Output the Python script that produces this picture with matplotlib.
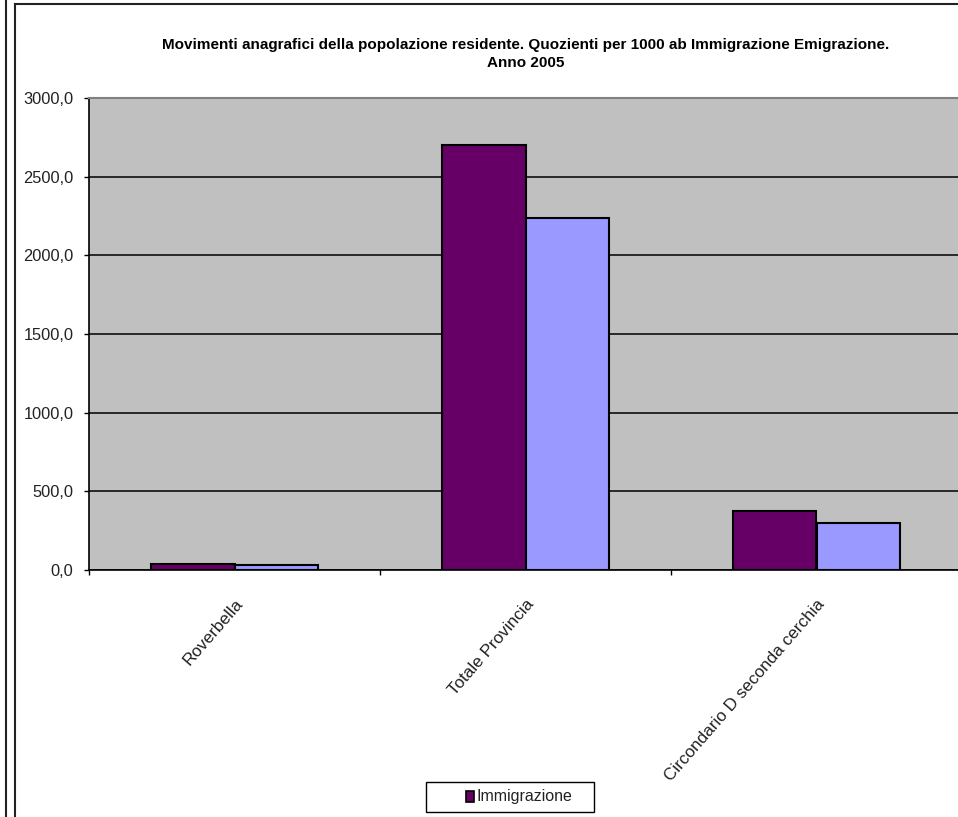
import matplotlib.pyplot as plt
import numpy as np
from matplotlib.lines import Line2D
from matplotlib.patches import Rectangle

# dati
CATEGORIE = ['Roverbella', 'Totale Provincia', 'Circondario D seconda cerchia']
IMMIGRAZIONE = [37.0, 2700.0, 376.0]
EMIGRAZIONE = [30.0, 2240.0, 297.0]
Y_TICKS = [0, 500, 1000, 1500, 2000, 2500, 3000]

TITOLO = ('Movimenti anagrafici della popolazione residente. Quozienti per 1000 ab '
          'Immigrazione Emigrazione.\nAnno 2005')

VIOLA = '#660066'
LILLA = '#9999FF'
GRIGIO = '#C0C0C0'

W, H = 958, 817
plt.rcParams['font.family'] = ['Liberation Sans', 'DejaVu Sans']


def fx(px):
    return px / W


def fy(py):
    # py misurato dall'alto
    return 1 - py / H


fig = plt.figure(figsize=(W / 100, H / 100), dpi=100)
ax = fig.add_axes([fx(89), 247 / H, 873 / W, 472 / H])

x = np.arange(len(CATEGORIE))
w = 0.287
ax.bar(x - w / 2, IMMIGRAZIONE, w, color=VIOLA, edgecolor='black', linewidth=1.5, zorder=3)
ax.bar(x + w / 2, EMIGRAZIONE, w, color=LILLA, edgecolor='black', linewidth=1.5, zorder=3)

ax.set_facecolor(GRIGIO)
ax.set_xlim(-0.5, len(CATEGORIE) - 0.5)
ax.set_ylim(0, 3000)

ax.set_yticks(Y_TICKS)
ax.set_yticklabels([f'{v:.1f}'.replace('.', ',') for v in Y_TICKS],
                   fontsize=11.8, color='#222222')
ax.yaxis.grid(True, color='black', linewidth=1.1, zorder=1)
ax.tick_params(axis='y', length=3.6, width=1, pad=7.5)

# tacche ai confini delle categorie, etichette al centro
ax.set_xticks(np.arange(-0.5, len(CATEGORIE)), labels=[])
ax.set_xticks(x, minor=True)
ax.set_xticklabels(CATEGORIE, minor=True, rotation=49, ha='right', va='top',
                   rotation_mode='anchor', fontsize=12.3, color='#222222')
ax.tick_params(axis='x', which='major', length=3.6, width=1)
ax.tick_params(axis='x', which='minor', length=0, pad=19)

for s in ['left', 'bottom']:
    ax.spines[s].set_color('black')
    ax.spines[s].set_linewidth(1.2)
ax.spines['top'].set_color('#808080')
ax.spines['top'].set_linewidth(1.5)
ax.spines['right'].set_visible(False)

fig.text(fx(526), fy(54), TITOLO, ha='center', va='center', fontsize=11,
         fontweight='bold', linespacing=1.3)

# legenda (solo la voce visibile)
fig.add_artist(Rectangle((fx(426), fy(812)), 168 / W, 30 / H, transform=fig.transFigure,
                         facecolor='white', edgecolor='black', linewidth=1.0))
fig.add_artist(Rectangle((fx(466), fy(802)), 8 / W, 11 / H, transform=fig.transFigure,
                         facecolor=VIOLA, edgecolor='black', linewidth=1.2))
fig.text(fx(476), fy(797), 'Immigrazione', ha='left', va='center', fontsize=11.5,
         color='#222222')

# cornice del grafico e bordo del grafico accanto
fig.add_artist(Line2D([fx(15), fx(15)], [0, fy(4)], color='#222222', linewidth=1.5))
fig.add_artist(Line2D([fx(15), 1], [fy(4), fy(4)], color='#222222', linewidth=1.5))
fig.add_artist(Line2D([fx(6), fx(6)], [0, 1], color='#222222', linewidth=1.5))

fig.savefig('out.png', dpi=100)
